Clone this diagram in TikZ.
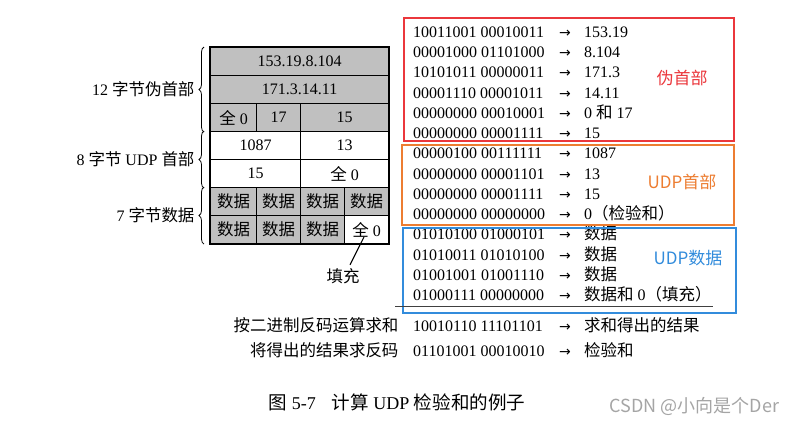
\documentclass[tikz,border=0pt]{standalone}
\usepackage{fontspec}
\setmainfont{Liberation Serif}
\newfontfamily\cjk[Scale=1.03]{Noto Sans CJK SC}
\newfontfamily\cjksans{Noto Sans CJK SC}
\newfontfamily\arrfont{DejaVu Sans}
\usetikzlibrary{decorations.pathreplacing}
\newcommand\zh[1]{{\cjk #1}}
\newcommand\rarr{{\arrfont\fontsize{14}{16}\selectfont →}}
\definecolor{tabgray}{RGB}{192,192,192}
\definecolor{boxred}{RGB}{235,55,60}
\definecolor{boxorange}{RGB}{237,125,49}
\definecolor{boxblue}{RGB}{50,140,220}
\definecolor{wmgray}{RGB}{165,165,165}
\begin{document}
\begin{tikzpicture}[x=1pt,y=-1pt,
  every node/.style={font=\fontsize{16}{19}\selectfont},
  cell/.style={draw, line width=1.1pt, minimum height=28pt, inner sep=0pt, anchor=north west},
  gcell/.style={cell, fill=tabgray},
  wcell/.style={cell, fill=white},
  lbl/.style={anchor=base east},
  bin/.style={anchor=base west, inner sep=0pt},
  brc/.style={decorate, decoration={brace, amplitude=5pt}, line width=0.8pt},
  cbox/.style={line width=2.6pt},
  clbl/.style={font=\cjksans\fontsize{17}{20}\selectfont}
]
\path[use as bounding box, fill=white] (0,0) rectangle (806,426);

% table
\node[gcell, minimum width=178pt] (r1) at (210,47) {153.19.8.104};
\node[gcell, minimum width=178pt] (r2) at (210,75) {171.3.14.11};
\node[gcell, minimum width=46pt] (r3a) at (210,103) {\zh{全} 0};
\node[gcell, minimum width=44pt] (r3b) at (256,103) {17};
\node[gcell, minimum width=88pt] (r3c) at (300,103) {15};
\node[wcell, minimum width=90pt] (r4a) at (210,131) {1087};
\node[wcell, minimum width=88pt] (r4b) at (300,131) {13};
\node[wcell, minimum width=90pt] (r5a) at (210,159) {15};
\node[wcell, minimum width=88pt] (r5b) at (300,159) {\zh{全} 0};
\node[gcell, minimum width=46pt] (r6a) at (210,187) {\zh{数据}};
\node[gcell, minimum width=44pt] (r6b) at (256,187) {\zh{数据}};
\node[gcell, minimum width=44pt] (r6c) at (300,187) {\zh{数据}};
\node[gcell, minimum width=44pt] (r6d) at (344,187) {\zh{数据}};
\node[gcell, minimum width=46pt] (r7a) at (210,215) {\zh{数据}};
\node[gcell, minimum width=44pt] (r7b) at (256,215) {\zh{数据}};
\node[gcell, minimum width=44pt] (r7c) at (300,215) {\zh{数据}};
\node[wcell, minimum width=44pt] (r7d) at (344,215) {\zh{全} 0};
\draw[line width=1.5pt] (r1.north west) rectangle (r7d.south east);

% braces and labels
\draw[brc] ([xshift=-6pt]r3a.south west) -- ([xshift=-6pt]r1.north west);
\draw[brc] ([xshift=-6pt]r5a.south west) -- ([xshift=-6pt]r4a.north west);
\draw[brc] ([xshift=-6pt]r7a.south west) -- ([xshift=-6pt]r6a.north west);
\node[anchor=east] (g1) at (198,89) {12 \zh{字节伪首部}};
\node[anchor=east] (g2) at (198,159) {8 \zh{字节} UDP \zh{首部}};
\node[anchor=east] (g3) at (198,215) {7 \zh{字节数据}};

% fill label
\node (fl) at (343,276) {\zh{填充}};
\coordinate (fltip) at (364,237);
\draw[line width=1.1pt] ([xshift=7pt]fl.north) -- (fltip);

% right column
\foreach \b/\v [count=\i] in {
  10011001 00010011/153.19,
  00001000 01101000/8.104,
  10101011 00000011/171.3,
  00001110 00001011/14.11,
  00000000 00010001/{0 \zh{和} 17},
  00000000 00001111/15,
  00000100 00111111/1087,
  00000000 00001101/13,
  00000000 00001111/15,
  00000000 00000000/{0\zh{（检验和）}},
  01010100 01000101/\zh{数据},
  01010011 01010100/\zh{数据},
  01001001 01001110/\zh{数据},
  01000111 00000000/{\zh{数据和} 0\zh{（填充）}}}{
  \pgfmathsetmacro\yy{37.5+(\i-1)*20.23}
  \node[bin] (b\i) at (413,\yy) {\b};
  \node[bin] (a\i) at (559,\yy) {\rarr};
  \node[bin] (v\i) at (584,\yy) {\v};
}

% coloured boxes
\draw[cbox, boxred] (404,18) rectangle (734,141);
\draw[cbox, boxorange] (402,145) rectangle (734,225);
\draw[cbox, boxblue] (403,228) rectangle (736,313);
\node[clbl, text=boxred] (lr) at (682,78) {伪首部};
\node[clbl, text=boxorange] (lo) at (682,182) {UDP首部};
\node[clbl, text=boxblue] (lb) at (688,258) {UDP数据};

% sum line
\draw[line width=1pt, black!75] (395,306) -- (713,306);

% bottom rows
\node[lbl] (s1l) at (402,331.5) {\zh{按二进制反码运算求和}};
\node[bin] (s1b) at (413,331.5) {10010110 11101101};
\node[bin] (s1a) at (559,331.5) {\rarr};
\node[bin] (s1v) at (584,331.5) {\zh{求和得出的结果}};
\node[lbl] (s2l) at (402,356.5) {\zh{将得出的结果求反码}};
\node[bin] (s2b) at (413,356.5) {01101001 00010010};
\node[bin] (s2a) at (559,356.5) {\rarr};
\node[bin] (s2v) at (584,356.5) {\zh{检验和}};

% caption
\node[font=\fontsize{18}{21}\selectfont] (cap) at (397,402) {\zh{图} 5-7\hspace{16pt}\zh{计算} UDP \zh{检验和的例子}};

% watermark
\node[anchor=west, text=wmgray, font=\cjksans\fontsize{18}{21}\selectfont] (wm) at (606,406) {CSDN @小向是个Der};
\end{tikzpicture}
\end{document}
